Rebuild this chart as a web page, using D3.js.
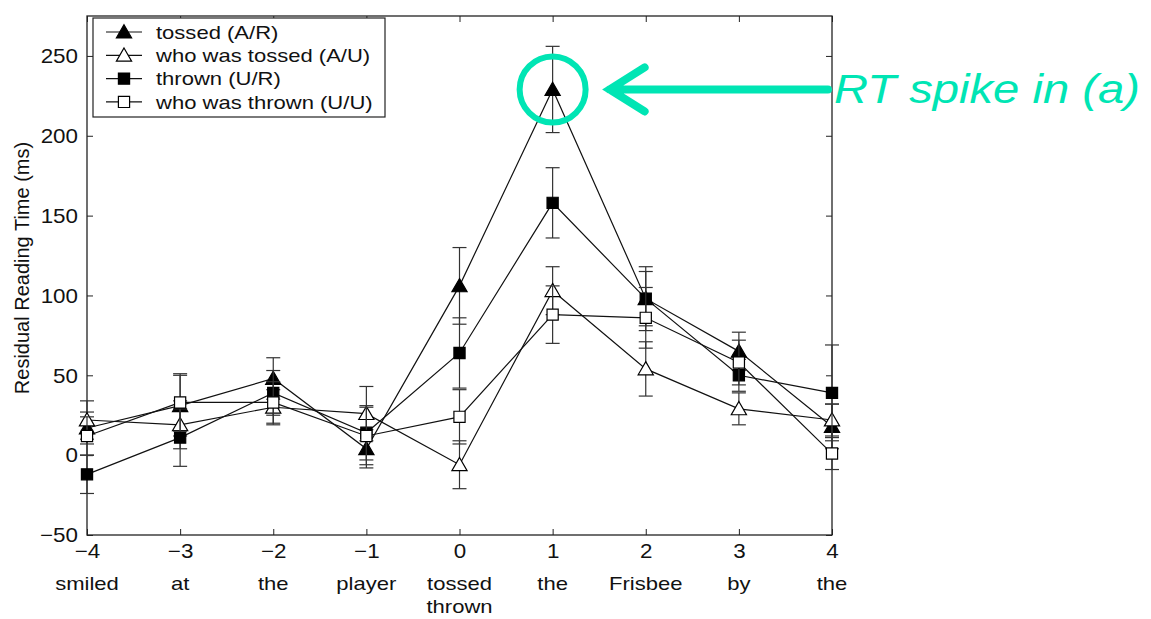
<!DOCTYPE html>
<html>
<head>
<meta charset="utf-8">
<script src="https://cdn.jsdelivr.net/npm/d3@7"></script>
<style>
  html, body { margin: 0; padding: 0; background: #fff; }
  svg { display: block; }
  text { font-family: "Liberation Sans", Arial, Helvetica, sans-serif; fill: #111; }
</style>
</head>
<body>
<svg id="chart" width="1151" height="619"></svg>
<script>
// ---------- data ----------
const positions = [-4, -3, -2, -1, 0, 1, 2, 3, 4];
const words = [["smiled"], ["at"], ["the"], ["player"], ["tossed", "thrown"], ["the"], ["Frisbee"], ["by"], ["the"]];
const yTicks = [-50, 0, 50, 100, 150, 200, 250];

const seriesNames = ["tossed (A/R)", "who was tossed (A/U)", "thrown (U/R)", "who was thrown (U/U)"];
const tossedAR      = [17, 31, 48, 4, 106, 229, 98, 65, 18];
const tossedARErr   = [10, 19, 13, 12, 24, 27, 17, 12, 14];
const whoTossedAU   = [22, 19, 30, 26, -6, 103, 54, 29, 22];
const whoTossedAUErr= [12, 15, 11, 17, 15, 15, 17, 10, 10];
const thrownUR      = [-12, 11, 39, 14, 64, 158, 98, 50, 39];
const thrownURErr   = [12, 18, 14, 17, 22, 22, 20, 10, 30];
const whoThrownUU   = [12, 33, 33, 12, 24, 88, 86, 58, 1];
const whoThrownUUErr= [12, 18, 13, 18, 17, 18, 19, 14, 10];

const annotation = "RT spike in (a)";
const yLabel = "Residual Reading Time (ms)";

// ---------- layout ----------
const svg = d3.select("#chart");
const L = 87, R = 832, T = 16, B = 535;
const x = d3.scaleLinear().domain([-4, 4]).range([L, R]);
const y = d3.scaleLinear().domain([-50, 275]).range([B, T]);

// horizontally widen text (reference glyphs are wide)
function stretch(sel, sx) {
  sel.each(function () {
    const t = d3.select(this);
    const xv = +(t.attr("x") || 0);
    t.attr("x", xv / sx).attr("transform", `scale(${sx},1)`);
  });
}

const series = [
  { name: seriesNames[0], vals: tossedAR, errs: tossedARErr, shape: d3.symbolTriangle, filled: true },
  { name: seriesNames[1], vals: whoTossedAU, errs: whoTossedAUErr, shape: d3.symbolTriangle, filled: false },
  { name: seriesNames[2], vals: thrownUR, errs: thrownURErr, shape: d3.symbolSquare, filled: true },
  { name: seriesNames[3], vals: whoThrownUU, errs: whoThrownUUErr, shape: d3.symbolSquare, filled: false }
];
const symSize = s => s === d3.symbolTriangle ? 100 : 125;

// frame
svg.append("rect").attr("x", L).attr("y", T).attr("width", R - L).attr("height", B - T)
  .attr("fill", "none").attr("stroke", "#222").attr("stroke-width", 1.3);

// axes (inward ticks on all sides)
const tl = 6;
const fmt = d => d < 0 ? "\u2212" + Math.abs(d) : d;
const gxB = svg.append("g").attr("transform", `translate(0,${B})`)
  .call(d3.axisBottom(x).tickValues(positions).tickSizeInner(-tl).tickSizeOuter(0).tickPadding(9).tickFormat(fmt));
const gxT = svg.append("g").attr("transform", `translate(0,${T})`)
  .call(d3.axisTop(x).tickValues(positions).tickSizeInner(-tl).tickSizeOuter(0).tickFormat(""));
const gyL = svg.append("g").attr("transform", `translate(${L},0)`)
  .call(d3.axisLeft(y).tickValues(yTicks).tickSizeInner(-tl).tickSizeOuter(0).tickPadding(9).tickFormat(fmt));
const gyR = svg.append("g").attr("transform", `translate(${R},0)`)
  .call(d3.axisRight(y).tickValues(yTicks).tickSizeInner(-tl).tickSizeOuter(0).tickFormat(""));
[gxB, gxT, gyL, gyR].forEach(g => {
  g.select(".domain").remove();
  g.selectAll(".tick line").attr("stroke", "#222");
  g.selectAll("text").attr("font-size", 20).style("fill", "#111");
});
gxB.selectAll("text").attr("dy", "0.71em");
gyL.selectAll("text").attr("dy", "0.34em");
stretch(gxB.selectAll("text"), 1.12);
stretch(gyL.selectAll("text"), 1.12);

// word labels
const wl = svg.append("g");
positions.forEach((p, i) => {
  words[i].forEach((w, j) => {
    wl.append("text").attr("x", x(p)).attr("y", 590 + j * 23).attr("text-anchor", "middle")
      .attr("font-size", 19).text(w);
  });
});
stretch(wl.selectAll("text"), 1.16);

// y label
svg.append("text").attr("transform", `translate(29,${268}) rotate(-90)`)
  .attr("text-anchor", "middle").attr("font-size", 20).text(yLabel);

// series
const line = d3.line().x((d, i) => x(positions[i])).y(d => y(d));
const capW = 7;
series.forEach(s => {
  const g = svg.append("g");
  s.vals.forEach((v, i) => {
    const cx = x(positions[i]);
    const lo = y(v - s.errs[i]), hi = y(v + s.errs[i]);
    g.append("line").attr("x1", cx).attr("x2", cx).attr("y1", lo).attr("y2", hi)
      .attr("stroke", "#333").attr("stroke-width", 1.2);
    [lo, hi].forEach(yy => g.append("line").attr("x1", cx - capW).attr("x2", cx + capW)
      .attr("y1", yy).attr("y2", yy).attr("stroke", "#333").attr("stroke-width", 1.2));
  });
  g.append("path").attr("d", line(s.vals)).attr("fill", "none").attr("stroke", "#111").attr("stroke-width", 1.2);
  g.selectAll(".m").data(s.vals).enter().append("path")
    .attr("d", d3.symbol().type(s.shape).size(symSize(s.shape)))
    .attr("transform", (d, i) => `translate(${x(positions[i])},${y(d) + (s.shape === d3.symbolTriangle ? 1.5 : 0)})`)
    .attr("fill", s.filled ? "#000" : "#fff").attr("stroke", "#000").attr("stroke-width", 1.2);
});

// legend
const lg = svg.append("g");
lg.append("rect").attr("x", 93).attr("y", 18).attr("width", 292).attr("height", 99)
  .attr("fill", "#fff").attr("stroke", "#222").attr("stroke-width", 1.2);
const lgText = lg.append("g");
series.forEach((s, i) => {
  const yy = 32 + i * 23.3;
  lg.append("line").attr("x1", 106).attr("x2", 142).attr("y1", yy).attr("y2", yy)
    .attr("stroke", "#111").attr("stroke-width", 1.2);
  lg.append("path").attr("d", d3.symbol().type(s.shape).size(symSize(s.shape)))
    .attr("transform", `translate(124,${yy + (s.shape === d3.symbolTriangle ? 1.5 : 0)})`)
    .attr("fill", s.filled ? "#000" : "#fff").attr("stroke", "#000").attr("stroke-width", 1.2);
  lgText.append("text").attr("x", 156).attr("y", yy).attr("dy", "0.36em").attr("font-size", 19).text(s.name);
});
stretch(lgText.selectAll("text"), 1.16);

// annotation
const teal = "#00e5b4";
const px = x(positions[5]), py = y(tossedAR[5]);
svg.append("ellipse").attr("cx", px).attr("cy", py).attr("rx", 33).attr("ry", 33)
  .attr("fill", "none").attr("stroke", teal).attr("stroke-width", 6);
svg.append("path")
  .attr("d", `M ${828} ${py} L ${px + 57} ${py} M ${px + 92} ${py - 22} L ${px + 57} ${py} L ${px + 92} ${py + 22}`)
  .attr("fill", "none").attr("stroke", teal).attr("stroke-width", 8)
  .attr("stroke-linecap", "round").attr("stroke-linejoin", "miter");
const ann = svg.append("text").attr("x", 834).attr("y", py + 14).attr("font-size", 40).attr("font-style", "italic")
  .style("fill", teal).text(annotation);
stretch(ann, 1.18);
</script>
</body>
</html>
